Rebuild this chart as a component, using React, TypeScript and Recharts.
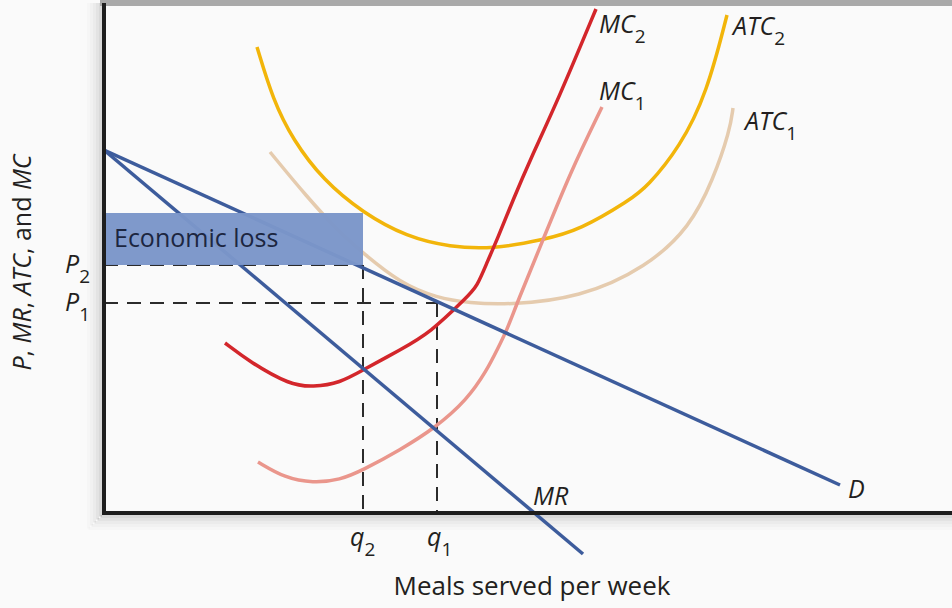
import { ComposedChart, Line, XAxis, YAxis, ReferenceLine } from 'recharts';

// quantities (meals / week, arbitrary units) and prices
const demandQ = [0, 73.6];
const demandP = [36.3, 2.8];
const mrQ = [0, 47.9];
const mrP = [36.3, -4.1];

const mc1Q = [15.4, 18.1, 20.9, 23.6, 25.9, 29.6, 33.1, 36.3, 38.3, 39.3, 40.3, 41.3, 43.9, 46.6, 49.8];
const mc1P = [5.1, 3.5, 3.0, 3.3, 4.3, 6.3, 8.5, 11.3, 14.3, 16.3, 18.3, 21.0, 27.3, 34.0, 40.6];

const mc2Q = [12.1, 14.6, 18.6, 20.9, 23.6, 25.9, 29.6, 32.6, 36.3, 37.3, 38.4, 39.3, 40.9, 42.6, 45.4, 49.2];
const mc2P = [17.0, 15.1, 12.8, 12.6, 13.0, 14.3, 16.3, 18.0, 21.6, 22.6, 25.3, 27.3, 31.3, 35.3, 41.3, 50.4];

const atc1Q = [16.6, 20.3, 23.6, 25.9, 29.6, 33.3, 36.6, 40.3, 47.6, 54.3, 58.6, 60.9, 62.6, 62.9];
const atc1P = [36.1, 31.6, 28.0, 26.0, 23.0, 21.5, 21.0, 20.8, 21.5, 24.6, 28.6, 33.3, 38.3, 40.5];

const atc2Q = [15.3, 16.9, 18.9, 21.9, 25.9, 30.3, 34.6, 38.9, 43.9, 47.6, 52.6, 54.3, 57.6, 60.3, 62.3];
const atc2P = [46.6, 41.3, 37.3, 33.3, 30.0, 27.6, 26.6, 26.4, 27.3, 28.3, 31.3, 32.6, 36.6, 42.0, 49.8];

const q1 = 33.3;
const q2 = 25.9;
const p1 = 21.0;
const p2 = 24.8;
const atc2AtQ2 = 30.0;

const FONT = "'Open Sans', 'Noto Sans', sans-serif";
const INK = '#231f20';
const PX_PER_UNIT = 10; // 608px plot height over a 60.8 price span

const pts = (qs: number[], ps: number[]) => qs.map((q, i) => ({ q, p: ps[i] }));
// loss band drawn as a thick line from P2 up to ATC2 at q2 so it sits above the curves
const lossMid = (p2 + atc2AtQ2) / 2;
const lossData = [
  { q: 0, p: lossMid },
  { q: q2, p: lossMid },
];

function SubText({ x, y, main, sub, italic = true }: any) {
  return (
    <text x={x} y={y} fontFamily={FONT} fontSize={25} fill={INK} fontStyle={italic ? 'italic' : 'normal'}>
      {main}
      {sub && (
        <tspan dy={10} fontSize={19} fontStyle="normal">
          {sub}
        </tspan>
      )}
    </text>
  );
}

function endLabel(main: string, sub: string, dx: number, dy: number, last: number) {
  return (props: any) => {
    if (props.index !== last) return <g key={props.index} />;
    return <SubText key={props.index} x={props.x + dx} y={props.y + dy} main={main} sub={sub} />;
  };
}

const dash = { stroke: '#2b2b2b', strokeWidth: 2, strokeDasharray: '14 9' };
const shadowSteps = [0.35, 0.65, 0.95, 1.25, 1.55];
const shadowAlpha = [0.13, 0.09, 0.06, 0.035, 0.015];

export default function App() {
  return (
    <div style={{ position: 'absolute', left: 0, top: 0, background: '#fafafa' }}>
      <ComposedChart width={952} height={608} margin={{ top: 0, right: 0, bottom: 0, left: 104 }}>
        <XAxis type="number" dataKey="q" domain={[0, 84.8]} hide allowDataOverflow />
        <YAxis type="number" domain={[-9.5, 51.3]} hide allowDataOverflow />

        {/* soft shadow along the axes */}
        {shadowSteps.map((s, i) => (
          <ReferenceLine key={'sx' + i} segment={[{ x: -s, y: -s }, { x: 84.8, y: -s }]} ifOverflow="visible"
            stroke="#000" strokeOpacity={shadowAlpha[i]} strokeWidth={3} />
        ))}
        {shadowSteps.map((s, i) => (
          <ReferenceLine key={'sy' + i} segment={[{ x: -s, y: -s }, { x: -s, y: 51.0 }]} ifOverflow="visible"
            stroke="#000" strokeOpacity={shadowAlpha[i]} strokeWidth={3} />
        ))}

        <ReferenceLine
          segment={[{ x: 0, y: p2 }, { x: q2, y: p2 }]}
          {...dash}
          label={(props: any) => <SubText x={props.viewBox.x - 39} y={props.viewBox.y + 8} main="P" sub="2" />}
        />
        <ReferenceLine
          segment={[{ x: q2, y: p2 }, { x: q2, y: 0 }]}
          {...dash}
          label={(props: any) => (
            <SubText x={props.viewBox.x - 13} y={props.viewBox.y + props.viewBox.height + 33} main="q" sub="2" />
          )}
        />
        <ReferenceLine
          segment={[{ x: 0, y: p1 }, { x: q1, y: p1 }]}
          {...dash}
          label={(props: any) => <SubText x={props.viewBox.x - 39} y={props.viewBox.y + 8} main="P" sub="1" />}
        />
        <ReferenceLine
          segment={[{ x: q1, y: p1 }, { x: q1, y: 0 }]}
          {...dash}
          label={(props: any) => (
            <SubText x={props.viewBox.x - 10} y={props.viewBox.y + props.viewBox.height + 33} main="q" sub="1" />
          )}
        />

        <Line data={pts(atc2Q, atc2P)} dataKey="p" type="basis" stroke="#f2b50a" strokeWidth={3.5} dot={false}
          isAnimationActive={false} label={endLabel('ATC', '2', 6, 20, atc2Q.length - 1)} />
        <Line data={pts(atc1Q, atc1P)} dataKey="p" type="basis" stroke="#e5cbae" strokeWidth={3.5} dot={false}
          isAnimationActive={false} label={endLabel('ATC', '1', 12, 22, atc1Q.length - 1)} />
        <Line data={pts(mc1Q, mc1P)} dataKey="p" type="basis" stroke="#ea968c" strokeWidth={3.5} dot={false}
          isAnimationActive={false} label={endLabel('MC', '1', -3, -7, mc1Q.length - 1)} />
        <Line data={pts(mc2Q, mc2P)} dataKey="p" type="basis" stroke="#d3262b" strokeWidth={3.5} dot={false}
          isAnimationActive={false} label={endLabel('MC', '2', 3, 24, mc2Q.length - 1)} />
        <Line data={pts(demandQ, demandP)} dataKey="p" type="linear" stroke="#3d5c9c" strokeWidth={3.5} dot={false}
          isAnimationActive={false} label={endLabel('D', '', 8, 13, demandQ.length - 1)} />
        <Line data={pts(mrQ, mrP)} dataKey="p" type="linear" stroke="#3d5c9c" strokeWidth={3.5} dot={false}
          isAnimationActive={false} label={endLabel('MR', '', -50, -49, mrQ.length - 1)} />

        {/* economic loss: (ATC2 - P2) x q2 */}
        <Line
          data={lossData}
          dataKey="p"
          type="linear"
          stroke="#7b96c9"
          strokeOpacity={0.97}
          strokeWidth={(atc2AtQ2 - p2) * PX_PER_UNIT}
          strokeLinecap="butt"
          dot={false}
          activeDot={false}
          isAnimationActive={false}
          label={(props: any) =>
            props.index === 0 ? (
              <text key="loss" x={props.x + 10} y={props.y + 8} fontFamily={FONT} fontSize={25} fill="#1c2640">
                Economic loss
              </text>
            ) : (
              <g key={props.index} />
            )
          }
        />

        {/* frame: top border, axes */}
        <ReferenceLine segment={[{ x: -0.4, y: 51.0 }, { x: 84.8, y: 51.0 }]} ifOverflow="visible"
          stroke="#a9a9a9" strokeWidth={6} />
        <ReferenceLine
          segment={[{ x: 0, y: -0.1 }, { x: 0, y: 51.0 }]}
          ifOverflow="visible"
          stroke="#1e1e1e"
          strokeWidth={4}
          label={(props: any) => {
            const cx = props.viewBox.x - 73;
            const cy = props.viewBox.y + props.viewBox.height / 2 + 4;
            return (
              <text x={cx} y={cy} transform={`rotate(-90, ${cx}, ${cy})`} textAnchor="middle"
                fontFamily={FONT} fontSize={25} fill={INK}>
                <tspan fontStyle="italic">P</tspan>, <tspan fontStyle="italic">MR</tspan>,{' '}
                <tspan fontStyle="italic">ATC</tspan>, and <tspan fontStyle="italic">MC</tspan>
              </text>
            );
          }}
        />
        <ReferenceLine
          segment={[{ x: -0.2, y: 0 }, { x: 84.8, y: 0 }]}
          ifOverflow="visible"
          stroke="#1e1e1e"
          strokeWidth={4}
          label={(props: any) => (
            <text x={props.viewBox.x + props.viewBox.width / 2 + 5} y={props.viewBox.y + 82} textAnchor="middle"
              fontFamily={FONT} fontSize={26} fill={INK}>
              Meals served per week
            </text>
          )}
        />
      </ComposedChart>
    </div>
  );
}
